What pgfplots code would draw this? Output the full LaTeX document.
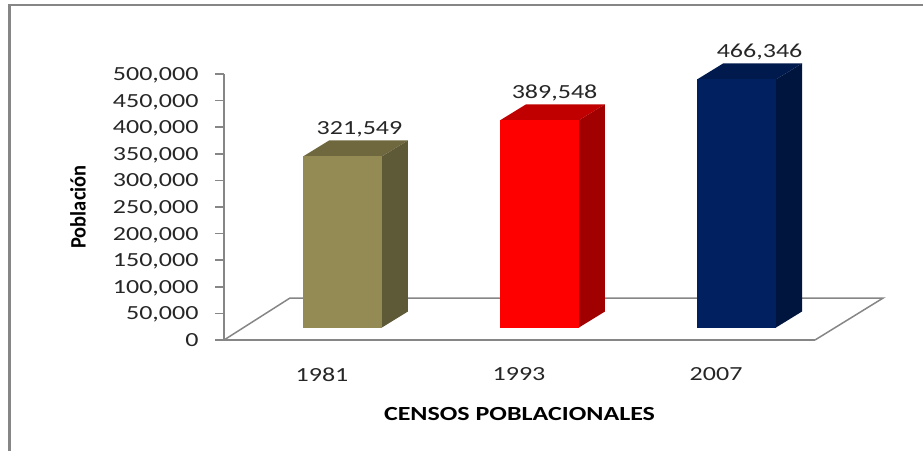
\documentclass[border=0pt]{standalone}
\usepackage{fontspec}
\setmainfont{Carlito}
\newfontfamily\widefont[FakeStretch=1.3]{Carlito}
\newfontfamily\narrowfont[FakeStretch=0.93]{Carlito}
\usepackage{pgfplots}
\pgfplotsset{compat=1.18}
\definecolor{framegray}{HTML}{868686}
\definecolor{tanfront}{HTML}{948A54}
\definecolor{tantop}{HTML}{6F683F}
\definecolor{tanside}{HTML}{5E5936}
\definecolor{redfront}{HTML}{FF0000}
\definecolor{redtop}{HTML}{C00000}
\definecolor{redside}{HTML}{A00000}
\definecolor{navyfront}{HTML}{002060}
\definecolor{navytop}{HTML}{001A4D}
\definecolor{navyside}{HTML}{00153D}
\begin{document}
\begin{tikzpicture}[x=1pt,y=1pt]
\useasboundingbox (0,0) rectangle (923,451);
% marco del grafico
\draw[framegray,line width=2.4pt] (9.5,0) -- (9.5,446) -- (923,446);
\begin{axis}[
    at={(224pt,111pt)}, anchor=south west,
    scale only axis,
    width=591pt, height=266pt,
    xmin=-0.6015, xmax=2.398,
    ymin=0, ymax=500000,
    clip=false,
    axis y line=left, axis x line=bottom,
    axis line style={framegray,line width=1.5pt,-},
    y tick style={framegray,line width=1.5pt},
    x tick style={draw=none},
    ytick={0,50000,...,500000},
    xtick={0,1,2},
    xticklabels={1981,1993,2007},
    major tick length=9pt,
    tick align=outside,
    scaled y ticks=false,
    /pgf/number format/fixed,
    /pgf/number format/1000 sep={,},
    /pgf/number format/assume math mode=true,
    ticklabel style={font=\widefont\fontsize{20}{20}\selectfont,text=black!85},
    yticklabel style={xshift=-13pt,text height=13pt,text depth=0pt},
    xticklabel style={xshift=-20.5pt,yshift=-15pt},
    xlabel={CENSOS POBLACIONALES},
    xlabel style={font=\widefont\bfseries\fontsize{20}{20}\selectfont,at={(axis description cs:0.5,-0.28)},anchor=center},
    ylabel={Población},
    ylabel style={font=\narrowfont\bfseries\fontsize{22}{22}\selectfont,at={(axis description cs:-0.247,0.5)},anchor=center},
    every node near coord/.append style={font=\widefont\fontsize{20}{20}\selectfont,text=black!85,yshift=15.5pt},
]
% piso
\addplot[framegray,line width=1.5pt] coordinates {
    (-0.6015,0)(-0.2665,78947)(2.744,78947)(2.398,0)};

% 1981
\addplot[draw=none,fill=tanside,yshift=12.5pt] coordinates {
    (0.2,0)(0.332,30075)(0.332,351624)(0.2,321549)} -- cycle;
\addplot[draw=none,fill=tantop,yshift=12.5pt] coordinates {
    (-0.2,321549)(-0.068,351624)(0.332,351624)(0.2,321549)} -- cycle;
\addplot[ybar,bar width=79pt,bar shift=0pt,draw=none,fill=tanfront,yshift=12.5pt,nodes near coords,
    every node near coord/.append style={xshift=17pt}] coordinates {(0,321549)};

% 1993
\addplot[draw=none,fill=redside,yshift=12.5pt] coordinates {
    (1.2,0)(1.332,30075)(1.332,419623)(1.2,389548)} -- cycle;
\addplot[draw=none,fill=redtop,yshift=12.5pt] coordinates {
    (0.8,389548)(0.932,419623)(1.332,419623)(1.2,389548)} -- cycle;
\addplot[ybar,bar width=79pt,bar shift=0pt,draw=none,fill=redfront,yshift=12.5pt,nodes near coords,
    every node near coord/.append style={xshift=15pt}] coordinates {(1,389548)};

% 2007
\addplot[draw=none,fill=navyside,yshift=12.5pt] coordinates {
    (2.2,0)(2.332,30075)(2.332,496421)(2.2,466346)} -- cycle;
\addplot[draw=none,fill=navytop,yshift=12.5pt] coordinates {
    (1.8,466346)(1.932,496421)(2.332,496421)(2.2,466346)} -- cycle;
\addplot[ybar,bar width=79pt,bar shift=0pt,draw=none,fill=navyfront,yshift=12.5pt,nodes near coords,
    every node near coord/.append style={xshift=23pt}] coordinates {(2,466346)};
\end{axis}
\end{tikzpicture}
\end{document}
